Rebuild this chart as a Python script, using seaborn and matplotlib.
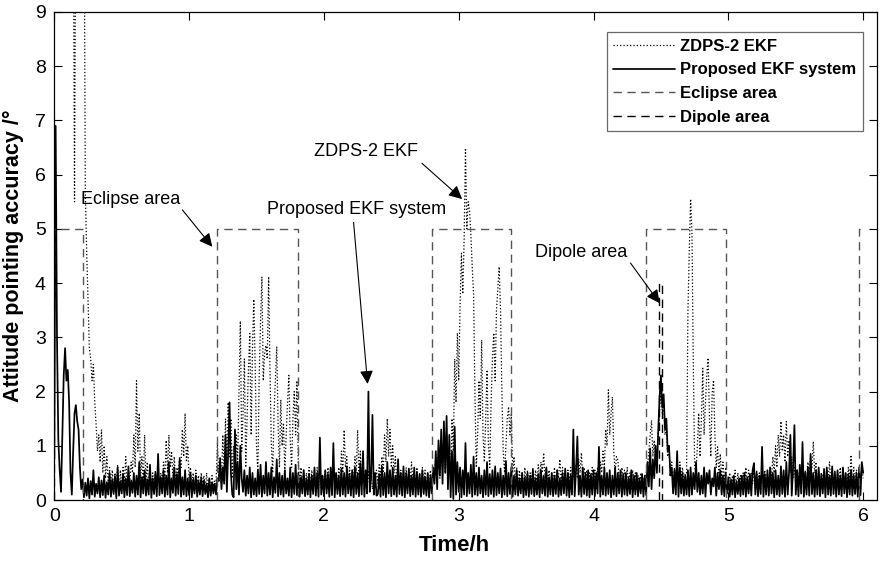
import numpy as np
import matplotlib
matplotlib.use("Agg")
import matplotlib.pyplot as plt
import seaborn as sns

# ===== data (one value every 0.01 h) =====
# ZDPS-2 EKF (dotted); values above 9 run off the top of the plot
zdps_values = [
    12, 12, 12, 12, 12, 12, 12, 12, 12, 12,
    12, 12, 12, 12, 12, 5.5, 12, 12, 12, 12,
    12, 12, 12, 5.7, 4.6, 3.7, 2.8, 2.6, 2.2, 2.5,
    1.8, 1.4, 0.9, 1.2, 0.7, 1.3, 0.5, 1.0, 0.4, 0.8,
    0.3, 0.6, 0.2, 0.55, 0.15, 0.5, 0.25, 0.65, 0.1, 0.55,
    0.2, 0.6, 0.3, 0.8, 0.25, 0.55, 0.35, 0.7, 0.5, 1.2,
    0.6, 2.2, 0.9, 1.6, 0.4, 0.8, 0.3, 1.2, 0.35, 0.7,
    0.25, 0.6, 0.2, 0.5, 0.3, 0.55, 0.15, 0.6, 0.25, 0.5,
    0.3, 0.7, 0.4, 1.1, 0.5, 1.2, 0.6, 0.9, 0.4, 0.8,
    0.3, 0.6, 0.45, 0.8, 0.6, 1.3, 0.8, 1.6, 0.7, 1.0,
    0.4, 0.6, 0.25, 0.5, 0.2, 0.55, 0.3, 0.45, 0.15, 0.5,
    0.25, 0.45, 0.2, 0.5, 0.15, 0.4, 0.2, 0.45, 0.25, 0.35,
    0.3, 1.05, 0.4, 0.8, 0.3, 1.2, 0.5, 1.5, 0.6, 1.8,
    0.8, 1.5, 0.4, 1.0, 0.5, 1.2, 0.7, 2.0, 3.3, 0.9,
    1.6, 2.6, 0.6, 1.5, 2.4, 3.07, 1.2, 2.8, 3.7, 2.5,
    1.0, 0.5, 2.3, 3.3, 4.12, 2.2, 2.7, 2.85, 2.6, 4.12,
    2.4, 1.0, 0.5, 1.6, 2.2, 2.83, 1.4, 0.6, 1.85, 1.0,
    1.42, 0.5, 1.2, 1.8, 2.3, 1.1, 0.6, 1.5, 2.0, 1.2,
    2.2, 0.7, 0.3, 0.6, 0.25, 0.55, 0.2, 0.5, 0.3, 0.6,
    0.2, 0.55, 0.3, 0.5, 0.15, 0.6, 0.25, 0.5, 0.2, 0.45,
    0.3, 0.55, 0.2, 0.6, 0.35, 0.5, 0.2, 0.65, 0.3, 0.5,
    0.25, 0.6, 0.4, 0.9, 0.5, 1.29, 0.6, 0.8, 0.3, 0.6,
    0.25, 0.55, 0.4, 0.8, 0.5, 1.29, 0.45, 0.9, 0.3, 0.6,
    0.2, 0.5, 0.3, 0.55, 0.25, 0.6, 0.2, 0.5, 0.3, 0.55,
    0.3, 0.65, 0.4, 0.8, 0.5, 1.2, 0.7, 1.5, 0.8, 1.3,
    0.6, 1.0, 0.5, 0.8, 0.3, 0.6, 0.25, 0.55, 0.2, 0.5,
    0.3, 0.6, 0.2, 0.55, 0.35, 0.7, 0.3, 0.5, 0.2, 0.6,
    0.25, 0.5, 0.2, 0.6, 0.3, 0.55, 0.2, 0.5, 0.25, 0.55,
    0.3, 0.6, 0.4, 0.8, 0.5, 0.9, 0.4, 1.0, 0.6, 1.1,
    0.5, 1.2, 0.3, 0.8, 0.4, 1.5, 0.9, 2.6, 1.8, 3.08,
    2.2, 3.6, 4.55, 3.8, 4.8, 6.49, 5.0, 5.5, 5.35, 4.9,
    4.3, 3.8, 2.0, 0.6, 1.2, 2.2, 1.5, 2.95, 1.2, 0.7,
    1.5, 2.4, 1.0, 0.6, 1.8, 2.6, 3.08, 2.2, 3.5, 3.9,
    4.3, 3.5, 2.0, 0.9, 0.5, 1.0, 1.5, 1.72, 1.2, 1.6,
    0.5, 0.8, 0.3, 0.6, 0.25, 0.55, 0.3, 0.5, 0.2, 0.6,
    0.3, 0.55, 0.2, 0.5, 0.35, 0.6, 0.25, 0.55, 0.3, 0.65,
    0.4, 0.7, 0.5, 0.87, 0.4, 0.6, 0.3, 0.55, 0.2, 0.5,
    0.3, 0.6, 0.25, 0.55, 0.4, 0.75, 0.35, 0.6, 0.3, 0.5,
    0.2, 0.55, 0.3, 0.6, 0.25, 0.5, 0.35, 0.65, 0.4, 0.75,
    0.5, 0.87, 0.4, 0.6, 0.3, 0.55, 0.2, 0.5, 0.25, 0.6,
    0.3, 0.55, 0.2, 0.6, 0.35, 0.7, 0.5, 0.9, 0.6, 1.3,
    1.0, 2.03, 1.2, 1.6, 1.9, 0.9, 0.5, 0.8, 0.74, 0.4,
    0.3, 0.6, 0.4, 0.55, 0.3, 0.6, 0.25, 0.5, 0.2, 0.55,
    0.3, 0.5, 0.2, 0.45, 0.25, 0.5, 0.2, 0.4, 0.3, 0.5,
    0.6, 0.9, 1.2, 1.47, 0.8, 1.1, 0.7, 0.9, 1.2, 1.7,
    2.0, 1.6, 1.8, 1.2, 1.4, 0.8, 0.9, 0.5, 0.7, 0.3,
    0.6, 0.4, 0.8, 0.3, 0.7, 0.4, 0.6, 0.3, 0.5, 0.5,
    3.47, 4.6, 5.55, 4.92, 2.5, 0.6, 0.5, 1.0, 1.6, 0.8,
    1.5, 2.43, 1.2, 1.8, 2.3, 2.62, 1.5, 0.8, 1.97, 2.21,
    1.2, 0.6, 0.98, 0.5, 0.85, 0.4, 0.7, 0.3, 0.6, 0.3,
    0.25, 0.5, 0.2, 0.45, 0.3, 0.55, 0.2, 0.5, 0.25, 0.45,
    0.2, 0.5, 0.3, 0.6, 0.25, 0.55, 0.2, 0.5, 0.3, 0.6,
    0.25, 0.55, 0.3, 0.5, 0.2, 0.6, 0.3, 0.55, 0.25, 0.5,
    0.3, 0.6, 0.4, 0.8, 0.5, 1.0, 0.6, 1.2, 0.8, 1.45,
    0.9, 1.2, 0.7, 1.45, 0.8, 1.1, 0.5, 0.8, 0.4, 0.6,
    0.3, 0.55, 0.25, 0.6, 0.3, 0.5, 0.2, 0.55, 0.3, 0.7,
    0.5, 0.8, 0.6, 1.08, 0.5, 0.7, 0.3, 0.55, 0.25, 0.5,
    0.3, 0.6, 0.2, 0.55, 0.35, 0.7, 0.3, 0.5, 0.2, 0.55,
    0.25, 0.5, 0.3, 0.6, 0.2, 0.55, 0.3, 0.5, 0.25, 0.6,
    0.4, 0.83, 0.3, 0.6, 0.25, 0.55, 0.3, 0.5, 0.2, 0.6,
    0.4,
]

# Proposed EKF system (solid)
proposed_values = [
    0.75, 6.9, 3.0, 1.1, 0.55, 0.15, 1.2, 2.3, 2.8, 2.2,
    2.4, 1.8, 0.5, 0.1, 0.9, 1.6, 1.75, 1.45, 1.3, 0.6,
    0.2, 0.38, 0.05, 0.32, 0.08, 0.4, 0.03, 0.35, 0.1, 0.55,
    0.06, 0.3, 0.12, 0.42, 0.05, 0.36, 0.09, 0.45, 0.04, 0.33,
    0.1, 0.5, 0.06, 0.38, 0.11, 0.44, 0.03, 0.6, 0.08, 0.35,
    0.12, 0.48, 0.05, 0.4, 0.09, 0.62, 0.07, 0.36, 0.13, 0.5,
    0.06, 0.45, 0.1, 0.7, 0.05, 0.42, 0.12, 0.55, 0.08, 0.38,
    0.1, 0.65, 0.04, 0.4, 0.11, 0.5, 0.07, 0.85, 0.09, 0.42,
    0.12, 0.55, 0.06, 0.45, 0.1, 0.7, 0.05, 0.4, 0.13, 0.6,
    0.08, 0.48, 0.11, 0.75, 0.06, 0.42, 0.1, 0.55, 0.07, 0.4,
    0.09, 0.5, 0.05, 0.38, 0.12, 0.45, 0.06, 0.35, 0.1, 0.42,
    0.07, 0.36, 0.11, 0.3, 0.05, 0.4, 0.08, 0.32, 0.12, 0.3,
    0.1, 0.4, 0.35, 0.75, 0.2, 0.6, 0.3, 1.2, 0.15, 0.9,
    1.8, 0.5, 0.1, 0.05, 1.3, 0.2, 0.7, 0.1, 1.0, 0.4,
    0.15, 0.55, 0.08, 0.45, 0.12, 0.6, 0.05, 0.5, 0.1, 0.4,
    0.07, 0.55, 0.11, 0.65, 0.06, 0.45, 0.12, 0.7, 0.08, 0.5,
    0.1, 0.6, 0.05, 0.42, 0.13, 0.75, 0.07, 0.5, 0.1, 0.45,
    0.06, 0.55, 0.12, 0.4, 0.08, 0.6, 0.05, 0.5, 0.11, 0.65,
    0.09, 0.5, 0.06, 0.42, 0.12, 0.55, 0.07, 0.4, 0.1, 0.48,
    0.05, 0.45, 0.11, 0.6, 0.08, 0.5, 0.06, 1.15, 0.1, 0.45,
    0.07, 0.55, 0.12, 0.48, 0.06, 0.6, 0.09, 1.05, 0.05, 0.5,
    0.11, 0.45, 0.07, 0.58, 0.1, 0.5, 0.06, 0.62, 0.12, 0.48,
    0.08, 0.55, 0.05, 0.6, 0.11, 0.5, 0.07, 0.68, 0.1, 0.9,
    0.06, 0.55, 0.12, 2.0, 0.15, 0.4, 1.57, 0.1, 0.5, 0.08,
    0.11, 0.48, 0.06, 0.62, 0.09, 0.5, 0.05, 0.7, 0.12, 0.55,
    0.07, 0.6, 0.1, 0.45, 0.06, 0.75, 0.11, 0.5, 0.08, 0.62,
    0.05, 0.5, 0.12, 0.58, 0.07, 0.45, 0.1, 0.6, 0.06, 0.52,
    0.1, 0.48, 0.06, 0.55, 0.11, 0.42, 0.08, 0.5, 0.05, 0.45,
    0.12, 0.6, 0.3, 0.9, 0.2, 1.1, 0.45, 1.3, 0.3, 1.45,
    0.5, 1.55, 0.2, 1.2, 0.05, 0.9, 0.02, 1.35, 0.1, 0.7,
    0.15, 0.6, 0.05, 0.55, 0.1, 1.05, 0.07, 0.5, 0.12, 0.65,
    0.06, 0.8, 0.1, 0.5, 0.08, 0.6, 0.12, 0.45, 0.05, 0.55,
    0.1, 0.7, 0.07, 0.48, 0.11, 0.55, 0.06, 0.62, 0.09, 0.5,
    0.12, 0.58, 0.05, 0.45, 0.1, 0.72, 0.07, 0.5, 0.11, 0.6,
    0.06, 0.45, 0.1, 0.55, 0.08, 0.4, 0.12, 0.5, 0.05, 0.42,
    0.09, 0.5, 0.06, 0.45, 0.11, 0.55, 0.07, 0.4, 0.1, 0.48,
    0.05, 0.55, 0.12, 0.45, 0.08, 0.6, 0.06, 0.42, 0.1, 0.5,
    0.07, 0.45, 0.11, 0.55, 0.06, 0.4, 0.09, 0.5, 0.12, 0.58,
    0.08, 0.5, 0.05, 0.45, 0.1, 1.3, 0.07, 0.55, 1.17, 0.1,
    0.45, 0.06, 0.6, 0.11, 0.5, 0.08, 0.55, 0.05, 0.48, 0.1,
    0.55, 0.07, 0.5, 0.12, 0.98, 0.06, 0.45, 0.1, 0.6, 0.08,
    0.5, 0.11, 0.55, 0.05, 0.45, 0.1, 0.6, 0.07, 0.5, 0.12,
    0.55, 0.06, 0.48, 0.1, 0.5, 0.08, 0.42, 0.11, 0.55, 0.05,
    0.45, 0.1, 0.5, 0.07, 0.4, 0.12, 0.48, 0.06, 0.45, 0.09,
    0.7, 0.25, 0.95, 0.2, 0.75, 0.4, 1.0, 0.5, 1.3, 1.9,
    2.3, 1.7, 1.95, 1.3, 1.5, 0.9, 1.0, 0.45, 0.6, 0.12,
    0.55, 0.1, 0.9, 0.06, 0.6, 0.12, 0.5, 0.08, 0.45, 0.1,
    0.55, 0.07, 0.6, 0.1, 0.5, 0.2, 0.7, 0.15, 0.5, 0.1,
    0.45, 0.12, 0.6, 0.06, 0.5, 0.3, 0.55, 0.1, 0.4, 0.25,
    0.6, 0.08, 0.5, 0.2, 0.55, 0.1, 0.45, 0.07, 0.5, 0.12,
    0.42, 0.06, 0.38, 0.1, 0.45, 0.05, 0.35, 0.11, 0.4, 0.07,
    0.45, 0.1, 0.5, 0.06, 0.42, 0.12, 0.48, 0.08, 0.55, 0.68,
    0.1, 0.5, 0.07, 0.45, 0.11, 0.98, 0.06, 0.48, 0.1, 0.55,
    0.08, 0.6, 0.12, 0.5, 0.05, 0.55, 0.1, 0.45, 0.07, 0.62,
    0.11, 0.55, 0.06, 0.7, 0.1, 0.5, 1.2, 0.08, 0.6, 1.38,
    0.1, 0.55, 0.07, 0.65, 0.12, 1.07, 0.06, 0.5, 0.1, 0.6,
    0.08, 0.85, 0.11, 0.5, 0.06, 0.55, 0.1, 0.6, 0.07, 0.48,
    0.12, 0.55, 0.05, 0.6, 0.1, 0.45, 0.08, 0.62, 0.11, 0.5,
    0.06, 0.55, 0.1, 0.45, 0.07, 0.6, 0.12, 0.5, 0.05, 0.48,
    0.1, 0.55, 0.08, 0.45, 0.11, 0.5, 0.06, 0.6, 0.09, 0.7,
    0.5,
]

time_step_h = 0.01
eclipse_start = [0.0, 1.21, 2.80, 4.39, 5.97]
eclipse_end = [0.215, 1.807, 3.39, 4.98, 6.0]
eclipse_height = 5.0
dipole_start = 4.485
dipole_end = 4.505
dipole_height = 4.0

x_ticks = [0, 1, 2, 3, 4, 5, 6]
y_ticks = [0, 1, 2, 3, 4, 5, 6, 7, 8, 9]

# (label, text position, arrow tail, arrow head)
notes = [
    ("Eclipse area", (0.566, 5.55), (0.95, 5.35), (1.172, 4.67)),
    ("Proposed EKF system", (2.24, 5.35), (2.22, 5.12), (2.324, 2.14)),
    ("ZDPS-2 EKF", (2.314, 6.42), (2.727, 6.21), (3.025, 5.55)),
    ("Dipole area", (3.91, 4.56), (4.274, 4.37), (4.49, 3.63)),
]

time_h = np.round(np.arange(len(proposed_values)) * time_step_h, 2)

# ===== style =====
sns.set_style("ticks")
plt.rcParams['font.family'] = ['Liberation Sans', 'DejaVu Sans']
plt.rcParams['text.color'] = 'black'
plt.rcParams['axes.labelcolor'] = 'black'

fig = plt.figure(figsize=(8.8, 5.63), dpi=100)
ax = fig.add_axes([0.0617, 0.1119, 0.9345, 0.8668])

# ===== series =====
sns.lineplot(x=time_h, y=zdps_values, ax=ax, color='black', linestyle=':',
             linewidth=0.9, estimator=None, sort=False, label='ZDPS-2 EKF')
sns.lineplot(x=time_h, y=proposed_values, ax=ax, color='black', linestyle='-',
             linewidth=1.25, estimator=None, sort=False, label='Proposed EKF system')

# ===== eclipse boxes (gray dashed) =====
data_end = time_h[-1]
for i, (s, e) in enumerate(zip(eclipse_start, eclipse_end)):
    xs = [s, s, e]
    ys = [0, eclipse_height, eclipse_height]
    if e < data_end:
        xs.append(e)
        ys.append(0)
    ax.plot(xs, ys, color='#555555', linestyle=(0, (6, 4)), linewidth=1.0,
            label='Eclipse area' if i == 0 else None)

# ===== dipole area (black dashed) =====
ax.plot([dipole_start, dipole_start, dipole_end, dipole_end],
        [0, dipole_height, dipole_height, 0],
        color='black', linestyle=(0, (6, 4)), linewidth=1.0, label='Dipole area')

# ===== annotations =====
for label, txt_pos, tail, head in notes:
    ax.text(txt_pos[0], txt_pos[1], label, fontsize=13, ha='center', va='center',
            color='black')
    ax.annotate('', xy=head, xytext=tail,
                arrowprops=dict(arrowstyle='-|>', color='black', lw=0.8,
                                mutation_scale=20, shrinkA=0, shrinkB=0))

# ===== axes =====
ax.set_xlim(0, 6.1)
ax.set_ylim(0, 9)
ax.set_xticks(x_ticks)
ax.set_yticks(y_ticks)
ax.tick_params(direction='in', length=6, width=0.8, top=True, right=True,
               labelsize=14, colors='black', labelcolor='black', pad=6)
for sp in ax.spines.values():
    sp.set_color('black')
    sp.set_linewidth(0.9)

ax.set_xlabel('Time/h', fontsize=16, fontweight='bold', color='black')
ax.xaxis.set_label_coords(0.486, -0.072)
ax.set_ylabel('Attitude pointing accuracy /°', fontsize=15.5, fontweight='bold',
              color='black', labelpad=8)

leg = ax.legend(loc='upper right', bbox_to_anchor=(0.983, 0.959), borderaxespad=0,
                frameon=True, fancybox=False, edgecolor='#444444',
                handlelength=3.7, handletextpad=0.3, labelspacing=0.52,
                borderpad=0.4, prop={'weight': 'bold', 'size': 12})
leg.get_frame().set_linewidth(0.9)
for txt in leg.get_texts():
    txt.set_color('black')

fig.savefig('out.png', dpi=100)
